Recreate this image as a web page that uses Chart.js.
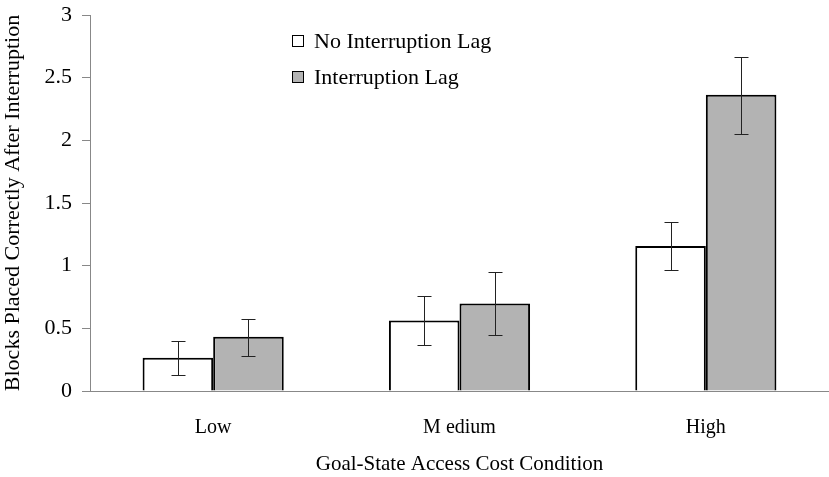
<!DOCTYPE html>
<html>
<head>
<meta charset="utf-8">
<script src="https://cdn.jsdelivr.net/npm/chart.js@4"></script>
<style>
  html, body { margin: 0; padding: 0; background: #fff; }
  #wrap { width: 829px; height: 477px; }
</style>
</head>
<body>
<div id="wrap"><canvas id="mycanvas" width="829" height="477"></canvas></div>
<script>
var categories = ['Low', 'M edium', 'High'];
var noLag = [0.265, 0.562, 1.157];
var noLagLower = [0.130, 0.368, 0.965];
var noLagUpper = [0.398, 0.756, 1.352];
var lag = [0.432, 0.698, 2.363];
var lagLower = [0.281, 0.443, 2.052];
var lagUpper = [0.578, 0.949, 2.665];
var yTicks = [0, 0.5, 1, 1.5, 2, 2.5, 3];

var serif = 'Liberation Serif';

// error bars drawn from the bar elements
var errorBars = {
	id: 'errorBars',
	afterDatasetsDraw: function(chart) {
		var ctx = chart.ctx;
		var y = chart.scales.y;
		ctx.save();
		ctx.strokeStyle = '#222';
		ctx.lineWidth = 1;
		chart.data.datasets.forEach(function(ds, di) {
			var meta = chart.getDatasetMeta(di);
			meta.data.forEach(function(bar, i) {
				var x = Math.round(bar.x) + 0.5;
				var top = Math.round(y.getPixelForValue(ds.upper[i])) + 0.5;
				var bot = Math.round(y.getPixelForValue(ds.lower[i])) + 0.5;
				ctx.beginPath();
				ctx.moveTo(x, top); ctx.lineTo(x, bot);
				ctx.moveTo(x - 7, top); ctx.lineTo(x + 7, top);
				ctx.moveTo(x - 7, bot); ctx.lineTo(x + 7, bot);
				ctx.stroke();
			});
		});
		ctx.restore();
	}
};

// legend inside the plot
var innerLegend = {
	id: 'innerLegend',
	afterDraw: function(chart) {
		var ctx = chart.ctx;
		ctx.save();
		ctx.font = '22px "' + serif + '"';
		ctx.textBaseline = 'middle';
		var rows = [41, 77];
		chart.data.datasets.forEach(function(ds, di) {
			var cy = rows[di];
			ctx.fillStyle = ds.backgroundColor;
			ctx.fillRect(292, cy - 6, 12, 12);
			ctx.strokeStyle = '#000';
			ctx.lineWidth = 1;
			ctx.strokeRect(292.5, cy - 5.5, 11, 11);
			ctx.fillStyle = '#000';
			ctx.fillText(ds.label, 314, cy + 1);
		});
		ctx.restore();
	}
};

var chartdata = {
	labels: categories,
	datasets: [
		{
			label: 'No Interruption Lag',
			backgroundColor: '#ffffff',
			borderColor: '#000000',
			borderWidth: 2,
			data: noLag,
			lower: noLagLower,
			upper: noLagUpper
		},
		{
			label: 'Interruption Lag',
			backgroundColor: '#b3b3b3',
			borderColor: '#000000',
			borderWidth: 2,
			data: lag,
			lower: lagLower,
			upper: lagUpper
		}
	]
};

var ctx = document.getElementById('mycanvas');

var barGraph = new Chart(ctx, {
	type: 'bar',
	data: chartdata,
	plugins: [errorBars, innerLegend],
	options: {
		responsive: false,
		animation: false,
		layout: { padding: { top: 15, right: 0, left: 0, bottom: 0 } },
		categoryPercentage: 0.573,
		barPercentage: 1.0,
		plugins: {
			legend: { display: false },
			tooltip: { enabled: false }
		},
		scales: {
			x: {
				grid: { display: false },
				border: { display: true, color: '#888', width: 1 },
				ticks: { color: '#000', font: { family: serif, size: 20 }, padding: 17 },
				title: {
					display: true,
					text: 'Goal-State Access Cost Condition',
					color: '#000',
					font: { family: serif, size: 21 },
					padding: { top: 12, bottom: 0 }
				},
				afterFit: function(s) { s.height = 86; }
			},
			y: {
				min: 0,
				max: 3,
				afterBuildTicks: function(s) {
					s.ticks = yTicks.map(function(v) { return { value: v }; });
				},
				grid: { drawOnChartArea: false, drawTicks: true, tickLength: 8, color: '#888' },
				border: { display: true, color: '#888', width: 1 },
				ticks: {
					color: '#000',
					font: { family: serif, size: 22 },
					padding: 10,
					callback: function(v) { return String(v); }
				},
				title: {
					display: true,
					text: 'Blocks Placed Correctly After Interruption',
					color: '#000',
					font: { family: serif, size: 22 },
					padding: { top: 0, bottom: 0 }
				},
				afterFit: function(s) {
					s.width = 90;
					s.paddingTop = 0;
					s.paddingBottom = 0;
				}
			}
		}
	}
});
</script>
</body>
</html>
